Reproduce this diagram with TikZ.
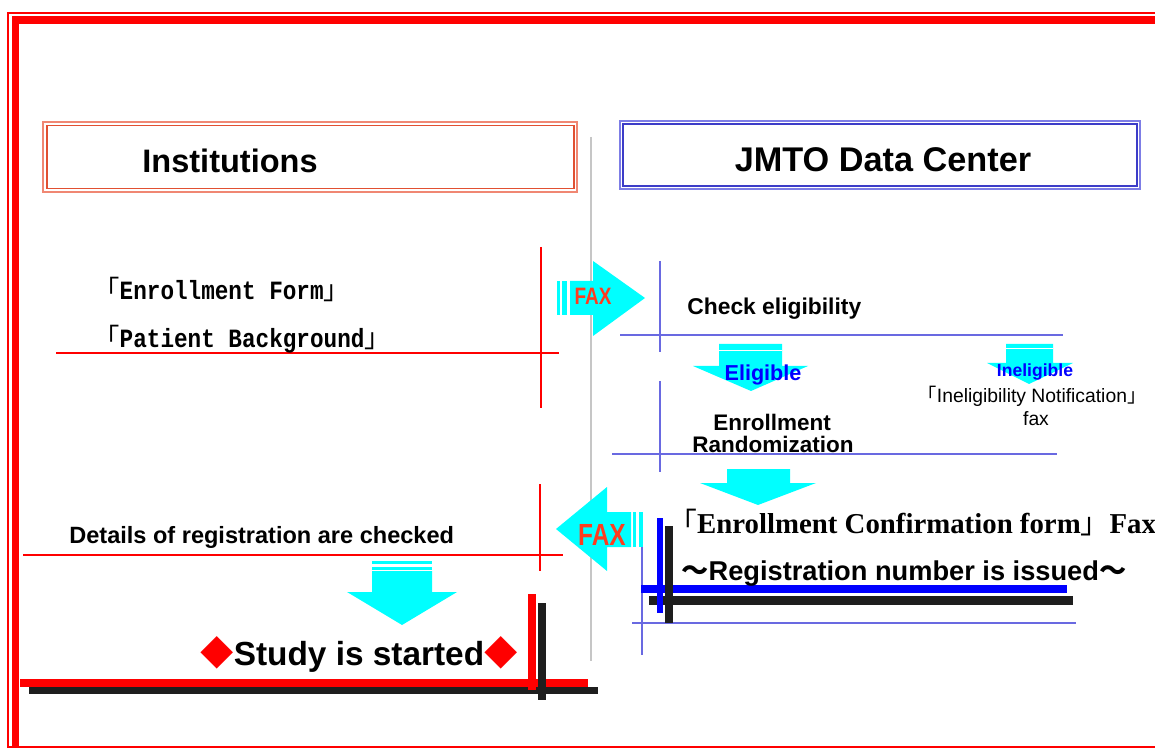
\documentclass[tikz,border=0pt]{standalone}
\usepackage{fontspec}
\setmainfont{Liberation Sans}
\newfontfamily\cjk{Noto Sans CJK JP}
\newfontfamily\gothmono[FakeStretch=0.86]{Liberation Mono}
\newfontfamily\narrowsans[FakeStretch=0.8]{Liberation Sans}
\newfontfamily\timesfont{Liberation Serif}
\definecolor{faxred}{RGB}{255,60,30}
\definecolor{faxcyan}{RGB}{0,255,255}
\definecolor{lineblue}{RGB}{105,105,225}
\definecolor{barblack}{RGB}{30,30,30}
\definecolor{instout}{RGB}{240,135,115}
\definecolor{instin}{RGB}{225,80,50}
\definecolor{jmtoout}{RGB}{125,125,230}
\definecolor{jmtoin}{RGB}{60,60,200}
\newcommand{\kagL}{{\cjk\mdseries 「}}
\newcommand{\kagR}{{\cjk\mdseries 」}}
\newcommand{\fsz}[1]{\fontsize{#1}{#1}\selectfont}
\begin{document}
\begin{tikzpicture}[x=0.02cm, y=-0.02cm,
	txt/.style={inner sep=0pt},
	thinred/.style={draw=red, line width=0.6pt},
	thinblue/.style={draw=lineblue, line width=0.7pt},
	block/.style={fill=faxcyan}]
	\useasboundingbox (0,0) rectangle (1155,749);
	\draw[draw=red, line width=1.1pt] (1170,13) -- (8,13) -- (8,747) -- (1170,747);
	\draw[draw=red, line width=4pt] (15.5,747) -- (15.5,20) -- (1170,20);
	\draw[draw=instout, line width=0.8pt] (43,122) rectangle (577,192);
	\draw[draw=instin, line width=0.8pt] (47,125.5) rectangle (574,188.5);
	\draw[draw=jmtoout, line width=0.8pt] (620,121) rectangle (1140,189);
	\draw[draw=jmtoin, line width=0.8pt] (623,124) rectangle (1137,186);
	\draw[draw=gray!45, line width=1.2pt] (591,137) -- (591,661);
	\draw[thinred] (541,247) -- (541,408);
	\draw[thinred] (56,353) -- (559,353);
	\draw[thinred] (540,484) -- (540,571);
	\draw[thinred] (23,555) -- (563,555);
	\draw[thinblue] (660,261) -- (660,352);
	\draw[thinblue] (620,335) -- (1063,335);
	\draw[thinblue] (660,381) -- (660,472);
	\draw[thinblue] (612,454) -- (1057,454);
	\draw[thinblue] (642,527) -- (642,655);
	\draw[thinblue] (632,623) -- (1076,623);
	\fill[block] (557,281) rectangle (559.5,315);
	\fill[block] (562,281) rectangle (567,315);
	\fill[block] (570,281) -- (593,281) -- (593,261) -- (645,298) -- (593,336) -- (593,315) -- (570,315) -- cycle;
	\fill[block] (719,344) -- (782,344) -- (782,366) -- (808,366) -- (751,391) -- (693,366) -- (719,366) -- cycle;
	\draw[draw=white, line width=0.6pt] (719,350.5) -- (782,350.5);
	\fill[block] (1006,344) -- (1053,344) -- (1053,363) -- (1073,363) -- (1029,384) -- (987,363) -- (1006,363) -- cycle;
	\draw[draw=white, line width=0.6pt] (1006,348.5) -- (1053,348.5);
	\fill[block] (727,469) -- (790,469) -- (790,483) -- (816,483) -- (758,505) -- (700,483) -- (727,483) -- cycle;
	\fill[block] (631,512) -- (607,512) -- (607,487) -- (556,529) -- (607,571) -- (607,547) -- (631,547) -- cycle;
	\fill[block] (633,512) rectangle (636,547);
	\fill[block] (639,512) rectangle (643,547);
	\fill[block] (372,561) rectangle (432,563.5);
	\fill[block] (372,566.5) rectangle (432,570);
	\fill[block] (372,571) -- (432,571) -- (432,592) -- (457,592) -- (402,625) -- (347,592) -- (372,592) -- cycle;
	\draw[draw=red, line width=4.5pt] (20,683) -- (588,683);
	\draw[draw=barblack, line width=4pt] (29,690.5) -- (598,690.5);
	\draw[draw=red, line width=4.5pt] (532,594) -- (532,690);
	\draw[draw=barblack, line width=4.5pt] (542,603) -- (542,700);
	\draw[draw=blue, line width=4.5pt] (641,589) -- (1067,589);
	\draw[draw=barblack, line width=5pt] (649,600.5) -- (1073,600.5);
	\draw[draw=blue, line width=3.4pt] (660,518) -- (660,613);
	\draw[draw=barblack, line width=4pt] (669,526) -- (669,623);
	\node[txt, anchor=base, font=\fsz{18.5}\bfseries] (insthead) at (230,173) {Institutions};
	\node[txt, anchor=base, font=\fsz{19.5}\bfseries] (jmtohead) at (883,172) {JMTO Data Center};
	\node[txt, anchor=base west, font=\fsz{15}\gothmono\bfseries] (enrform) at (93,300) {\kagL Enrollment Form\kagR};
	\node[txt, anchor=base west, font=\fsz{15}\gothmono\bfseries] (patbg) at (93,348) {\kagL Patient Background\kagR};
	\node[txt, anchor=base, font=\fsz{13.5}\narrowsans\bfseries, faxred] (faxin) at (593,305) {FAX};
	\node[txt, anchor=base west, font=\fsz{13}\bfseries] (checkelig) at (687,315) {Check eligibility};
	\node[txt, anchor=base, font=\fsz{12.3}\bfseries, blue] (eligible) at (763,380) {Eligible};
	\node[txt, anchor=base, font=\fsz{10}\bfseries, blue] (ineligible) at (1035,377) {Ineligible};
	\node[txt, anchor=base, font=\fsz{11}] (inelignote) at (1032,402) {\kagL Ineligibility Notification\kagR};
	\node[txt, anchor=base, font=\fsz{11}] (inelfax) at (1036,425) {fax};
	\node[txt, anchor=base, font=\fsz{12.8}\bfseries] (enrollment) at (772,430) {Enrollment};
	\node[txt, anchor=base, font=\fsz{12.8}\bfseries] (randomization) at (773,452) {Randomization};
	\node[txt, anchor=base, font=\fsz{17.4}\narrowsans\bfseries, faxred] (faxout) at (602,545) {FAX};
	\node[txt, anchor=base west, font=\fsz{16.4}\timesfont\bfseries] (confform) at (668,533) {\kagL Enrollment Confirmation form\kagR Fax};
	\node[txt, anchor=base west, font=\fsz{15.5}\bfseries] (regno) at (681,580) {{\cjk ～}Registration number is issued{\cjk ～}};
	\node[txt, anchor=base west, font=\fsz{13.4}\bfseries] (details) at (69,543) {Details of registration are checked};
	\node[txt, anchor=base, font=\fsz{19}\bfseries] (started) at (359,665) {{\cjk\color{red}◆}Study is started{\cjk\color{red}◆}};
\end{tikzpicture}
\end{document}
